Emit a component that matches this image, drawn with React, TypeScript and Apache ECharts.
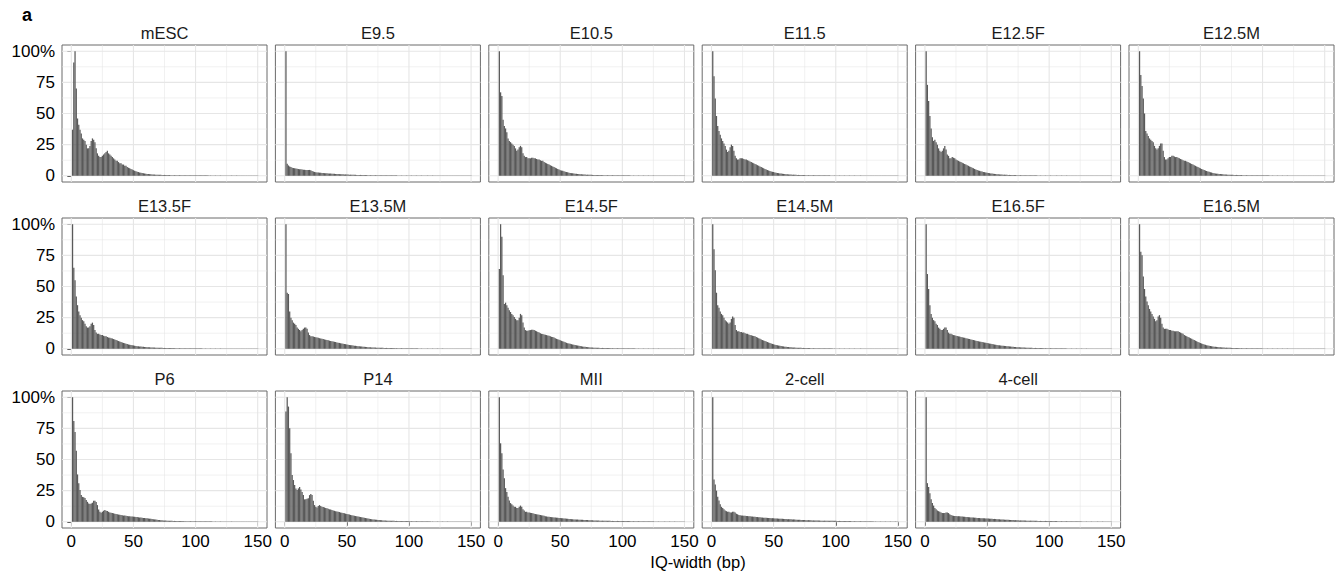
import React, { useEffect, useRef } from "react";
import * as echarts from "echarts";

// ---------- data (percent of max bin, IQ-width 1..150 bp) ----------
const panelNames = [
  "mESC", "E9.5", "E10.5", "E11.5", "E12.5F", "E12.5M",
  "E13.5F", "E13.5M", "E14.5F", "E14.5M", "E16.5F", "E16.5M",
  "P6", "P14", "MII", "2-cell", "4-cell",
];

const xTicks = [0, 50, 100, 150];
const xMinor = [25, 75, 125];
const yTicks = [0, 25, 50, 75, 100];
const yMinor = [12.5, 37.5, 62.5, 87.5];

const mESC = [
  37, 91, 100, 70, 46, 41, 37, 34, 30, 29,
  28, 25, 22, 22, 24, 28, 30, 29, 27, 22,
  18, 16, 15, 15, 16, 17, 18, 19, 20, 18,
  17, 16, 15, 14, 13, 12, 12, 11, 10, 10,
  9, 9, 8, 8, 7, 6.5, 6, 5.5, 5, 4.5,
  4, 3.6, 3.2, 3, 2.7, 2.4, 2.2, 2, 1.8, 1.6,
  1.5, 1.4, 1.3, 1.2, 1.1, 1, 1, 0.9, 0.9, 0.8,
  0.8, 0.8, 0.7, 0.7, 0.7, 0.6, 0.6, 0.6, 0.6, 0.5,
  0.5, 0.5, 0.5, 0.5, 0.5, 0.5, 0.5, 0.5, 0.5, 0.5,
  0.5, 0.5, 0.4, 0.4, 0.4, 0.4, 0.4, 0.4, 0.4, 0.4,
  0.4, 0.4, 0.4, 0.4, 0.4, 0.4, 0.4, 0.4, 0.4, 0.4,
  0.3, 0.3, 0.3, 0.3, 0.3, 0.3, 0.3, 0.3, 0.3, 0.3,
  0.3, 0.3, 0.3, 0.3, 0.3, 0.3, 0.3, 0.3, 0.3, 0.3,
  0.3, 0.3, 0.3, 0.3, 0.3, 0.2, 0.2, 0.2, 0.2, 0.2,
  0.2, 0.2, 0.2, 0.2, 0.2, 0.2, 0.2, 0.2, 0.2, 0.2,
];
const E9_5 = [
  100, 9.6, 8.3, 7.5, 7, 6.5, 6.2, 6, 5.8, 5.6,
  5.4, 5.3, 5.2, 5, 4.9, 4.8, 4.7, 4.6, 4.6, 4.7,
  4.5, 3.8, 3.4, 3.1, 2.9, 2.7, 2.6, 2.5, 2.4, 2.3,
  2.2, 2.1, 2, 2, 1.9, 1.8, 1.8, 1.7, 1.6, 1.6,
  1.5, 1.4, 1.4, 1.3, 1.3, 1.2, 1.2, 1.1, 1.1, 1,
  1, 0.9, 0.9, 0.9, 0.8, 0.8, 0.8, 0.7, 0.7, 0.7,
  0.7, 0.6, 0.6, 0.6, 0.6, 0.6, 0.5, 0.5, 0.5, 0.5,
  0.5, 0.5, 0.5, 0.4, 0.4, 0.4, 0.4, 0.4, 0.4, 0.4,
  0.4, 0.4, 0.4, 0.4, 0.4, 0.4, 0.4, 0.4, 0.4, 0.4,
  0.3, 0.3, 0.3, 0.3, 0.3, 0.3, 0.3, 0.3, 0.3, 0.3,
  0.3, 0.3, 0.3, 0.3, 0.3, 0.3, 0.3, 0.3, 0.3, 0.3,
  0.3, 0.3, 0.3, 0.3, 0.3, 0.3, 0.3, 0.3, 0.3, 0.3,
  0.2, 0.2, 0.2, 0.2, 0.2, 0.2, 0.2, 0.2, 0.2, 0.2,
  0.2, 0.2, 0.2, 0.2, 0.2, 0.2, 0.2, 0.2, 0.2, 0.2,
  0.2, 0.2, 0.2, 0.2, 0.2, 0.2, 0.2, 0.2, 0.2, 0.2,
];
const E10_5 = [
  100, 67, 64, 45, 40, 38, 35, 30, 28, 27,
  26, 25, 24, 22, 20, 21, 23, 24, 23, 18,
  16, 15, 15, 14, 14, 14, 14.5, 14.5, 14, 14,
  13.5, 13, 13, 12.5, 12, 12, 11, 10.5, 10, 9.5,
  9, 8.5, 8, 7.5, 7, 6.5, 6, 5.5, 5, 4.5,
  4.2, 4, 3.6, 3.3, 3, 2.8, 2.5, 2.3, 2.1, 2,
  1.8, 1.7, 1.6, 1.5, 1.4, 1.3, 1.2, 1.1, 1, 1,
  0.9, 0.9, 0.8, 0.8, 0.8, 0.7, 0.7, 0.7, 0.6, 0.6,
  0.6, 0.6, 0.6, 0.5, 0.5, 0.5, 0.5, 0.5, 0.5, 0.5,
  0.5, 0.5, 0.4, 0.4, 0.4, 0.4, 0.4, 0.4, 0.4, 0.4,
  0.4, 0.4, 0.4, 0.4, 0.4, 0.4, 0.3, 0.3, 0.3, 0.3,
  0.3, 0.3, 0.3, 0.3, 0.3, 0.3, 0.3, 0.3, 0.3, 0.3,
  0.3, 0.3, 0.3, 0.3, 0.3, 0.3, 0.3, 0.3, 0.2, 0.2,
  0.2, 0.2, 0.2, 0.2, 0.2, 0.2, 0.2, 0.2, 0.2, 0.2,
  0.2, 0.2, 0.2, 0.2, 0.2, 0.2, 0.2, 0.2, 0.2, 0.2,
];
const E11_5 = [
  100, 80, 62, 48, 40, 36, 33, 30, 28, 26,
  24, 21, 19, 20, 23, 25, 24, 20, 16, 14,
  13, 13, 14, 14, 14, 13.5, 13, 13, 12.5, 12,
  11.5, 11, 10.5, 10, 9.5, 9, 8.5, 8, 7.5, 7,
  6.5, 6, 5.5, 5, 4.6, 4.2, 3.8, 3.5, 3.2, 3,
  2.7, 2.5, 2.3, 2.1, 1.9, 1.8, 1.6, 1.5, 1.4, 1.3,
  1.2, 1.1, 1, 1, 0.9, 0.9, 0.8, 0.8, 0.7, 0.7,
  0.7, 0.6, 0.6, 0.6, 0.6, 0.5, 0.5, 0.5, 0.5, 0.5,
  0.5, 0.5, 0.5, 0.4, 0.4, 0.4, 0.4, 0.4, 0.4, 0.4,
  0.4, 0.4, 0.4, 0.4, 0.4, 0.3, 0.3, 0.3, 0.3, 0.3,
  0.3, 0.3, 0.3, 0.3, 0.3, 0.3, 0.3, 0.3, 0.3, 0.3,
  0.3, 0.3, 0.3, 0.3, 0.3, 0.3, 0.3, 0.3, 0.3, 0.3,
  0.2, 0.2, 0.2, 0.2, 0.2, 0.2, 0.2, 0.2, 0.2, 0.2,
  0.2, 0.2, 0.2, 0.2, 0.2, 0.2, 0.2, 0.2, 0.2, 0.2,
  0.2, 0.2, 0.2, 0.2, 0.2, 0.2, 0.2, 0.2, 0.2, 0.2,
];
const E12_5F = [
  100, 73, 60, 48, 38, 31, 28, 29, 27, 25,
  22, 20, 19, 20, 22, 24, 21, 17, 16, 14,
  14, 15, 14.5, 14, 13, 12.5, 12, 11.5, 11, 10.5,
  10, 9.5, 9, 8.5, 8, 7.5, 7, 6.5, 6, 5.5,
  5, 4.6, 4.3, 4, 3.7, 3.4, 3.1, 2.9, 2.7, 2.5,
  2.3, 2.1, 1.9, 1.8, 1.6, 1.5, 1.4, 1.3, 1.2, 1.1,
  1, 1, 0.9, 0.9, 0.8, 0.8, 0.7, 0.7, 0.7, 0.6,
  0.6, 0.6, 0.6, 0.5, 0.5, 0.5, 0.5, 0.5, 0.5, 0.4,
  0.4, 0.4, 0.4, 0.4, 0.4, 0.4, 0.4, 0.4, 0.4, 0.4,
  0.3, 0.3, 0.3, 0.3, 0.3, 0.3, 0.3, 0.3, 0.3, 0.3,
  0.3, 0.3, 0.3, 0.3, 0.3, 0.3, 0.3, 0.3, 0.3, 0.3,
  0.3, 0.3, 0.3, 0.3, 0.3, 0.2, 0.2, 0.2, 0.2, 0.2,
  0.2, 0.2, 0.2, 0.2, 0.2, 0.2, 0.2, 0.2, 0.2, 0.2,
  0.2, 0.2, 0.2, 0.2, 0.2, 0.2, 0.2, 0.2, 0.2, 0.2,
  0.2, 0.2, 0.2, 0.2, 0.2, 0.2, 0.2, 0.2, 0.2, 0.2,
];
const E12_5M = [
  100, 81, 72, 62, 50, 36, 34, 32, 30, 29,
  28, 27, 24, 22, 21, 22, 24, 26, 26, 20,
  15, 13, 13, 14, 15, 15, 16, 16, 15.5, 15,
  15, 14.5, 14, 13.5, 13, 12.5, 12, 12, 11.5, 11,
  10.5, 10, 9.5, 9, 8.5, 8, 7.5, 7, 6.5, 6,
  5.5, 5, 4.6, 4.2, 3.8, 3.5, 3.2, 2.9, 2.6, 2.3,
  2.1, 1.9, 1.7, 1.6, 1.5, 1.4, 1.3, 1.2, 1.1, 1,
  1, 0.9, 0.9, 0.8, 0.8, 0.8, 0.7, 0.7, 0.7, 0.6,
  0.6, 0.6, 0.6, 0.5, 0.5, 0.5, 0.5, 0.5, 0.5, 0.5,
  0.5, 0.4, 0.4, 0.4, 0.4, 0.4, 0.4, 0.4, 0.4, 0.4,
  0.4, 0.4, 0.4, 0.4, 0.4, 0.3, 0.3, 0.3, 0.3, 0.3,
  0.3, 0.3, 0.3, 0.3, 0.3, 0.3, 0.3, 0.3, 0.3, 0.3,
  0.3, 0.3, 0.3, 0.3, 0.3, 0.2, 0.2, 0.2, 0.2, 0.2,
  0.2, 0.2, 0.2, 0.2, 0.2, 0.2, 0.2, 0.2, 0.2, 0.2,
  0.2, 0.2, 0.2, 0.2, 0.2, 0.2, 0.2, 0.2, 0.2, 0.2,
];
const E13_5F = [
  100, 65, 55, 42, 35, 30, 27, 25, 23, 22,
  20, 18, 17, 17, 18, 20, 21, 19, 15, 13,
  12, 12, 11.5, 11, 11, 10.5, 10, 10, 9.5, 9,
  8.8, 8.5, 8.2, 7.8, 7.5, 7, 6.6, 6.2, 5.8, 5.4,
  5, 4.7, 4.4, 4.1, 3.8, 3.5, 3.3, 3.1, 2.9, 2.7,
  2.5, 2.3, 2.1, 2, 1.9, 1.8, 1.7, 1.6, 1.5, 1.4,
  1.3, 1.2, 1.2, 1.1, 1.1, 1, 1, 0.9, 0.9, 0.9,
  0.8, 0.8, 0.8, 0.7, 0.7, 0.7, 0.7, 0.6, 0.6, 0.6,
  0.6, 0.6, 0.5, 0.5, 0.5, 0.5, 0.5, 0.5, 0.5, 0.5,
  0.4, 0.4, 0.4, 0.4, 0.4, 0.4, 0.4, 0.4, 0.4, 0.4,
  0.4, 0.4, 0.4, 0.4, 0.4, 0.3, 0.3, 0.3, 0.3, 0.3,
  0.3, 0.3, 0.3, 0.3, 0.3, 0.3, 0.3, 0.3, 0.3, 0.3,
  0.3, 0.3, 0.3, 0.3, 0.3, 0.2, 0.2, 0.2, 0.2, 0.2,
  0.2, 0.2, 0.2, 0.2, 0.2, 0.2, 0.2, 0.2, 0.2, 0.2,
  0.2, 0.2, 0.2, 0.2, 0.2, 0.2, 0.2, 0.2, 0.2, 0.2,
];
const E13_5M = [
  100, 45, 44, 30, 25, 23, 21, 20, 19, 17,
  16, 15, 14, 15, 16, 17, 17, 16, 13, 11,
  10, 10, 9.8, 9.5, 9.3, 9, 8.8, 8.5, 8.2, 8,
  7.8, 7.5, 7.3, 7, 6.8, 6.5, 6.3, 6.1, 5.9, 5.6,
  5.4, 5.1, 4.9, 4.7, 4.5, 4.3, 4.1, 3.9, 3.7, 3.5,
  3.3, 3.1, 2.9, 2.8, 2.6, 2.5, 2.4, 2.2, 2.1, 2,
  1.9, 1.8, 1.7, 1.6, 1.5, 1.4, 1.3, 1.2, 1.2, 1.1,
  1.1, 1, 1, 0.9, 0.9, 0.9, 0.8, 0.8, 0.8, 0.7,
  0.7, 0.7, 0.7, 0.6, 0.6, 0.6, 0.6, 0.6, 0.5, 0.5,
  0.5, 0.5, 0.5, 0.5, 0.5, 0.4, 0.4, 0.4, 0.4, 0.4,
  0.4, 0.4, 0.4, 0.4, 0.4, 0.4, 0.4, 0.3, 0.3, 0.3,
  0.3, 0.3, 0.3, 0.3, 0.3, 0.3, 0.3, 0.3, 0.3, 0.3,
  0.3, 0.3, 0.3, 0.3, 0.3, 0.3, 0.3, 0.2, 0.2, 0.2,
  0.2, 0.2, 0.2, 0.2, 0.2, 0.2, 0.2, 0.2, 0.2, 0.2,
  0.2, 0.2, 0.2, 0.2, 0.2, 0.2, 0.2, 0.2, 0.2, 0.2,
];
const E14_5F = [
  64, 100, 90, 59, 36, 37, 35, 33, 31, 29.5,
  28, 27, 25.5, 24, 23, 23, 25, 28, 27, 21,
  17, 15, 14.5, 14.5, 14.8, 15, 15.3, 15.3, 15, 14.5,
  14, 13.5, 13, 12.5, 12, 11.8, 11.5, 11.2, 11, 10.7,
  10.4, 10, 9.6, 9.4, 9, 8.5, 8, 7.6, 7.2, 6.8,
  6.4, 6, 5.6, 5.2, 4.8, 4.5, 4.2, 4, 3.7, 3.5,
  3.2, 3, 2.8, 2.6, 2.4, 2.2, 2, 1.8, 1.7, 1.6,
  1.4, 1.3, 1.2, 1.1, 1, 1, 0.9, 0.9, 0.8, 0.8,
  0.8, 0.7, 0.7, 0.7, 0.7, 0.6, 0.6, 0.6, 0.6, 0.6,
  0.5, 0.5, 0.5, 0.5, 0.5, 0.5, 0.5, 0.5, 0.4, 0.4,
  0.4, 0.4, 0.4, 0.4, 0.4, 0.4, 0.4, 0.4, 0.4, 0.4,
  0.3, 0.3, 0.3, 0.3, 0.3, 0.3, 0.3, 0.3, 0.3, 0.3,
  0.3, 0.3, 0.3, 0.3, 0.3, 0.3, 0.3, 0.3, 0.3, 0.3,
  0.2, 0.2, 0.2, 0.2, 0.2, 0.2, 0.2, 0.2, 0.2, 0.2,
  0.2, 0.2, 0.2, 0.2, 0.2, 0.2, 0.2, 0.2, 0.2, 0.2,
];
const E14_5M = [
  100, 80, 63, 45, 35, 33, 30, 28, 27, 25,
  23, 22, 21, 20, 21, 24, 26, 25, 19, 15,
  14, 14, 13.5, 13.5, 13, 13, 12.5, 12, 12, 11.5,
  11, 10.8, 10.5, 10.2, 10, 9.5, 9, 8.5, 8, 7.5,
  7, 6.6, 6.2, 5.8, 5.4, 5, 4.6, 4.2, 3.9, 3.6,
  3.3, 3, 2.8, 2.6, 2.4, 2.2, 2, 1.9, 1.7, 1.6,
  1.5, 1.4, 1.3, 1.2, 1.1, 1, 1, 0.9, 0.9, 0.8,
  0.8, 0.8, 0.7, 0.7, 0.7, 0.6, 0.6, 0.6, 0.6, 0.5,
  0.5, 0.5, 0.5, 0.5, 0.5, 0.5, 0.4, 0.4, 0.4, 0.4,
  0.4, 0.4, 0.4, 0.4, 0.4, 0.4, 0.4, 0.3, 0.3, 0.3,
  0.3, 0.3, 0.3, 0.3, 0.3, 0.3, 0.3, 0.3, 0.3, 0.3,
  0.3, 0.3, 0.3, 0.3, 0.3, 0.3, 0.3, 0.3, 0.3, 0.3,
  0.2, 0.2, 0.2, 0.2, 0.2, 0.2, 0.2, 0.2, 0.2, 0.2,
  0.2, 0.2, 0.2, 0.2, 0.2, 0.2, 0.2, 0.2, 0.2, 0.2,
  0.2, 0.2, 0.2, 0.2, 0.2, 0.2, 0.2, 0.2, 0.2, 0.2,
];
const E16_5F = [
  100, 60, 48, 35, 28, 25, 23, 22, 20, 19,
  17, 16, 15, 15, 16, 17, 17, 15, 13, 12,
  12, 11.5, 11, 10.8, 10.5, 10.2, 10, 9.8, 9.5, 9.2,
  9, 8.8, 8.5, 8.2, 8, 7.8, 7.5, 7.2, 7, 6.8,
  6.5, 6.3, 6, 5.8, 5.6, 5.4, 5.2, 5, 4.8, 4.6,
  4.4, 4.2, 4, 3.8, 3.6, 3.4, 3.2, 3, 2.9, 2.8,
  2.6, 2.5, 2.4, 2.3, 2.2, 2.1, 2, 1.9, 1.8, 1.7,
  1.6, 1.5, 1.4, 1.3, 1.2, 1.2, 1.1, 1.1, 1, 1,
  0.9, 0.9, 0.9, 0.8, 0.8, 0.8, 0.7, 0.7, 0.7, 0.7,
  0.6, 0.6, 0.6, 0.6, 0.6, 0.5, 0.5, 0.5, 0.5, 0.5,
  0.5, 0.5, 0.4, 0.4, 0.4, 0.4, 0.4, 0.4, 0.4, 0.4,
  0.4, 0.4, 0.4, 0.3, 0.3, 0.3, 0.3, 0.3, 0.3, 0.3,
  0.3, 0.3, 0.3, 0.3, 0.3, 0.3, 0.3, 0.3, 0.3, 0.3,
  0.2, 0.2, 0.2, 0.2, 0.2, 0.2, 0.2, 0.2, 0.2, 0.2,
  0.2, 0.2, 0.2, 0.2, 0.2, 0.2, 0.2, 0.2, 0.2, 0.2,
];
const E16_5M = [
  100, 78, 75, 58, 48, 42, 38, 35, 32, 30,
  28, 26, 24, 22, 23, 26, 27, 25, 20, 17,
  16, 16, 16, 15.5, 15, 15, 14.5, 14.5, 14, 14,
  14, 14, 13.5, 13, 12.5, 12, 11, 10.5, 10, 9.5,
  9, 8.5, 8, 7.5, 7, 6.5, 6, 5.5, 5, 4.6,
  4.2, 3.8, 3.5, 3.2, 2.9, 2.6, 2.4, 2.2, 2, 1.8,
  1.7, 1.6, 1.5, 1.4, 1.3, 1.2, 1.1, 1, 1, 0.9,
  0.9, 0.8, 0.8, 0.8, 0.7, 0.7, 0.7, 0.6, 0.6, 0.6,
  0.6, 0.5, 0.5, 0.5, 0.5, 0.5, 0.5, 0.5, 0.4, 0.4,
  0.4, 0.4, 0.4, 0.4, 0.4, 0.4, 0.4, 0.4, 0.4, 0.3,
  0.3, 0.3, 0.3, 0.3, 0.3, 0.3, 0.3, 0.3, 0.3, 0.3,
  0.3, 0.3, 0.3, 0.3, 0.3, 0.3, 0.3, 0.3, 0.3, 0.3,
  0.2, 0.2, 0.2, 0.2, 0.2, 0.2, 0.2, 0.2, 0.2, 0.2,
  0.2, 0.2, 0.2, 0.2, 0.2, 0.2, 0.2, 0.2, 0.2, 0.2,
  0.2, 0.2, 0.2, 0.2, 0.2, 0.2, 0.2, 0.2, 0.2, 0.2,
];
const P6 = [
  100, 81, 72, 57, 38, 31, 25.5, 21.4, 20, 19.6,
  19, 17.4, 16, 14.7, 14.2, 14.7, 15.3, 16.9, 16.9, 15.8,
  13.4, 9.9, 8, 7.2, 8, 8.8, 9.4, 8.8, 8.6, 8,
  7.5, 7.2, 7, 6.8, 6.5, 6.2, 6, 5.8, 5.6, 5.4,
  5.2, 5, 5, 4.8, 4.6, 4.5, 4.4, 4.3, 4.2, 4.1,
  4, 3.9, 3.8, 3.6, 3.5, 3.4, 3.2, 3, 3, 2.9,
  2.8, 2.6, 2.5, 2.4, 2.2, 2, 1.9, 1.8, 1.6, 1.5,
  1.4, 1.3, 1.2, 1.1, 1, 1, 0.9, 0.9, 0.8, 0.8,
  0.8, 0.7, 0.7, 0.7, 0.7, 0.6, 0.6, 0.6, 0.6, 0.6,
  0.5, 0.5, 0.5, 0.5, 0.5, 0.5, 0.5, 0.5, 0.5, 0.5,
  0.5, 0.4, 0.4, 0.4, 0.4, 0.4, 0.4, 0.4, 0.4, 0.4,
  0.4, 0.4, 0.4, 0.3, 0.3, 0.3, 0.3, 0.3, 0.3, 0.3,
  0.3, 0.3, 0.3, 0.3, 0.3, 0.3, 0.3, 0.3, 0.3, 0.3,
  0.2, 0.2, 0.2, 0.2, 0.2, 0.2, 0.2, 0.2, 0.2, 0.2,
  0.2, 0.2, 0.2, 0.2, 0.2, 0.2, 0.2, 0.2, 0.2, 0.2,
];
const P14 = [
  88.5, 100, 92.5, 75, 55, 37.5, 33.5, 29.5, 26.8, 25.5,
  26.8, 28, 26, 24, 21.5, 18, 18, 18.5, 18.8, 21.4,
  22.2, 21.4, 16.9, 13.4, 12, 11.5, 12.6, 13.4, 12.6, 12,
  11.8, 11.5, 11, 10.8, 10.5, 10, 9.8, 9.5, 9, 8.8,
  8.5, 8.2, 8, 7.8, 7.5, 7.2, 7, 6.8, 6.5, 6.2,
  6, 5.8, 5.5, 5.2, 5, 4.8, 4.6, 4.4, 4.2, 4,
  3.8, 3.6, 3.4, 3.2, 3, 2.8, 2.6, 2.4, 2.2, 2,
  1.9, 1.8, 1.7, 1.6, 1.5, 1.4, 1.3, 1.2, 1.1, 1,
  1, 0.9, 0.9, 0.9, 0.8, 0.8, 0.8, 0.8, 0.7, 0.7,
  0.7, 0.7, 0.7, 0.6, 0.6, 0.6, 0.6, 0.6, 0.6, 0.6,
  0.5, 0.5, 0.5, 0.5, 0.5, 0.5, 0.5, 0.4, 0.4, 0.4,
  0.4, 0.4, 0.4, 0.4, 0.4, 0.4, 0.4, 0.3, 0.3, 0.3,
  0.3, 0.3, 0.3, 0.3, 0.3, 0.3, 0.3, 0.3, 0.3, 0.3,
  0.3, 0.3, 0.2, 0.2, 0.2, 0.2, 0.2, 0.2, 0.2, 0.2,
  0.2, 0.2, 0.2, 0.2, 0.2, 0.2, 0.2, 0.2, 0.2, 0.2,
];
const MII = [
  100, 63, 55, 42, 35, 27, 24, 20, 17, 15,
  14, 13, 12, 12, 11, 11, 12, 13, 12, 10,
  9, 8, 8, 7.5, 7.5, 7.2, 7, 6.8, 6.5, 6.2,
  6, 5.8, 5.6, 5.4, 5.2, 5, 4.8, 4.5, 4.3, 4.1,
  4, 3.8, 3.7, 3.6, 3.5, 3.4, 3.3, 3.2, 3.1, 3,
  2.9, 2.8, 2.7, 2.6, 2.5, 2.4, 2.3, 2.2, 2.1, 2,
  1.9, 1.9, 1.8, 1.8, 1.7, 1.7, 1.6, 1.6, 1.5, 1.5,
  1.4, 1.4, 1.3, 1.3, 1.2, 1.2, 1.1, 1.1, 1, 1,
  1, 0.9, 0.9, 0.9, 0.9, 0.8, 0.8, 0.8, 0.8, 0.8,
  0.7, 0.7, 0.7, 0.7, 0.7, 0.7, 0.7, 0.7, 0.7, 0.7,
  0.6, 0.6, 0.6, 0.6, 0.6, 0.6, 0.5, 0.5, 0.5, 0.5,
  0.5, 0.5, 0.5, 0.5, 0.4, 0.4, 0.4, 0.4, 0.4, 0.4,
  0.4, 0.4, 0.4, 0.4, 0.4, 0.3, 0.3, 0.3, 0.3, 0.3,
  0.3, 0.3, 0.3, 0.3, 0.3, 0.3, 0.3, 0.3, 0.3, 0.3,
  0.3, 0.3, 0.3, 0.3, 0.3, 0.2, 0.2, 0.2, 0.2, 0.2,
];
const cell2 = [
  100, 34, 30, 25, 20, 17, 14, 12, 11, 10,
  9, 8.5, 8, 8, 7.5, 7.5, 8, 8, 7.5, 6.5,
  6, 5.5, 5.3, 5.1, 5, 4.9, 4.8, 4.7, 4.6, 4.5,
  4.4, 4.3, 4.2, 4.1, 4, 3.9, 3.8, 3.7, 3.6, 3.5,
  3.4, 3.3, 3.3, 3.2, 3.1, 3, 3, 2.9, 2.9, 2.8,
  2.7, 2.7, 2.6, 2.5, 2.5, 2.4, 2.4, 2.3, 2.3, 2.2,
  2.1, 2.1, 2, 2, 1.9, 1.9, 1.8, 1.7, 1.7, 1.6,
  1.6, 1.5, 1.5, 1.4, 1.4, 1.3, 1.3, 1.3, 1.2, 1.2,
  1.1, 1.1, 1.1, 1, 1, 1, 1, 0.9, 0.9, 0.9,
  0.9, 0.9, 0.8, 0.8, 0.8, 0.8, 0.8, 0.8, 0.8, 0.8,
  0.7, 0.7, 0.7, 0.7, 0.7, 0.7, 0.6, 0.6, 0.6, 0.6,
  0.6, 0.6, 0.5, 0.5, 0.5, 0.5, 0.5, 0.5, 0.5, 0.5,
  0.4, 0.4, 0.4, 0.4, 0.4, 0.4, 0.4, 0.4, 0.4, 0.4,
  0.3, 0.3, 0.3, 0.3, 0.3, 0.3, 0.3, 0.3, 0.3, 0.3,
  0.3, 0.3, 0.3, 0.3, 0.3, 0.3, 0.3, 0.3, 0.3, 0.3,
];
const cell4 = [
  100, 31, 28, 23, 18, 15, 13, 11, 10, 9,
  8.5, 8, 7.5, 7, 7, 7, 7.5, 7.5, 7, 6,
  5.5, 5, 4.8, 4.7, 4.6, 4.5, 4.5, 4.4, 4.3, 4.2,
  4.1, 4, 3.9, 3.8, 3.7, 3.6, 3.5, 3.5, 3.4, 3.3,
  3.2, 3.1, 3, 3, 2.9, 2.9, 2.8, 2.8, 2.7, 2.7,
  2.6, 2.5, 2.5, 2.4, 2.3, 2.3, 2.2, 2.1, 2.1, 2,
  1.9, 1.9, 1.8, 1.7, 1.7, 1.6, 1.6, 1.5, 1.5, 1.4,
  1.4, 1.3, 1.3, 1.2, 1.2, 1.1, 1.1, 1, 1, 1,
  1, 0.9, 0.9, 0.9, 0.9, 0.8, 0.8, 0.8, 0.8, 0.8,
  0.7, 0.7, 0.7, 0.7, 0.7, 0.7, 0.7, 0.7, 0.7, 0.7,
  0.6, 0.6, 0.6, 0.6, 0.6, 0.6, 0.5, 0.5, 0.5, 0.5,
  0.5, 0.5, 0.5, 0.5, 0.4, 0.4, 0.4, 0.4, 0.4, 0.4,
  0.4, 0.4, 0.4, 0.4, 0.4, 0.3, 0.3, 0.3, 0.3, 0.3,
  0.3, 0.3, 0.3, 0.3, 0.3, 0.3, 0.3, 0.3, 0.3, 0.3,
  0.3, 0.3, 0.3, 0.3, 0.3, 0.2, 0.2, 0.2, 0.2, 0.2,
];

const panelValues = [
  mESC, E9_5, E10_5, E11_5, E12_5F, E12_5M,
  E13_5F, E13_5M, E14_5F, E14_5M, E16_5F, E16_5M,
  P6, P14, MII, cell2, cell4,
];

// ---------- layout ----------
const X_MIN = -7.5, X_MAX = 157.5, Y_MIN = -5, Y_MAX = 105;
const LEFT0 = 62, COL_STEP = 213.4, TOP0 = 45, ROW_STEP = 173;
const PW = 205, PH = 137;
const FONT = "'Liberation Sans', Arial, Helvetica, sans-serif";
const FS = 16.5;

function buildOption() {
  const grids: any[] = [];
  const xAxes: any[] = [];
  const yAxes: any[] = [];
  const series: any[] = [];
  const graphics: any[] = [];

  const gridData: number[][] = [];
  xTicks.forEach((v) => gridData.push([0, v, 1]));
  xMinor.forEach((v) => gridData.push([0, v, 0]));
  yTicks.forEach((v) => gridData.push([1, v, 1]));
  yMinor.forEach((v) => gridData.push([1, v, 0]));

  panelNames.forEach((name, i) => {
    const row = Math.floor(i / 6);
    const col = i % 6;
    const left = LEFT0 + col * COL_STEP;
    const top = TOP0 + row * ROW_STEP;
    const showX = row === 2;
    const showY = col === 0;
    grids.push({
      left, top, width: PW, height: PH,
      show: true, borderColor: "#6b6b6b", borderWidth: 1, backgroundColor: "#fff",
      containLabel: false,
    });
    xAxes.push({
      type: "value", gridIndex: i, min: X_MIN, max: X_MAX,
      axisLine: { show: false },
      splitLine: { show: false },
      axisTick: { show: showX, customValues: xTicks, length: 4, lineStyle: { color: "#333", width: 1 } },
      axisLabel: { show: showX, customValues: xTicks, color: "#000", fontSize: FS + 0.5, fontFamily: FONT, margin: 5 },
    });
    yAxes.push({
      type: "value", gridIndex: i, min: Y_MIN, max: Y_MAX,
      axisLine: { show: false },
      splitLine: { show: false },
      axisTick: { show: showY, customValues: yTicks, length: 4, lineStyle: { color: "#333", width: 1 } },
      axisLabel: {
        show: showY, customValues: yTicks, color: "#000", fontSize: FS + 0.5, fontFamily: FONT, margin: 7,
        formatter: (v: number) => (v === 100 ? "100%" : String(v)),
      },
    });
    series.push({
      type: "custom", xAxisIndex: i, yAxisIndex: i, z: 1, silent: true,
      data: gridData,
      renderItem: (_p: any, api: any) => {
        const dir = api.value(0), v = api.value(1), major = api.value(2);
        const p0 = dir === 0 ? api.coord([v, Y_MIN]) : api.coord([X_MIN, v]);
        const p1 = dir === 0 ? api.coord([v, Y_MAX]) : api.coord([X_MAX, v]);
        return {
          type: "line",
          shape: { x1: p0[0], y1: p0[1], x2: p1[0], y2: p1[1] },
          style: { stroke: "#e6e6e6", lineWidth: major ? 1.1 : 0.55 },
        };
      },
    });
    series.push({
      type: "custom", xAxisIndex: i, yAxisIndex: i, z: 2, silent: true,
      data: panelValues[i].map((v, k) => [k + 1, v]),
      renderItem: (_p: any, api: any) => {
        const x = api.value(0), y = api.value(1);
        const a = api.coord([x - 0.5, y]);
        const b = api.coord([x + 0.5, 0]);
        return {
          type: "rect",
          shape: { x: a[0], y: a[1], width: b[0] - a[0], height: b[1] - a[1] },
          style: { fill: "#595959" },
        };
      },
    });
    graphics.push({
      type: "text", x: left + PW / 2, y: top - 12,
      style: {
        text: name, align: "center", verticalAlign: "middle", textAlign: "center", textVerticalAlign: "middle",
        fontSize: FS, fontFamily: FONT, fill: "#1a1a1a",
      },
    });
  });

  graphics.push({
    type: "text", x: LEFT0 + (5 * COL_STEP + PW) / 2, y: 562,
    style: {
      text: "IQ-width (bp)", align: "center", verticalAlign: "middle", textAlign: "center", textVerticalAlign: "middle",
      fontSize: FS, fontFamily: FONT, fill: "#000",
    },
  });
  graphics.push({
    type: "text", x: 22, y: 15,
    style: {
      text: "a", align: "left", verticalAlign: "middle", textAlign: "left", textVerticalAlign: "middle",
      fontSize: 18, fontWeight: "bold", fontFamily: FONT, fill: "#000",
    },
  });

  return {
    animation: false,
    backgroundColor: "#fff",
    grid: grids,
    xAxis: xAxes,
    yAxis: yAxes,
    series,
    graphic: graphics,
  };
}

export default function App() {
  const ref = useRef<HTMLDivElement>(null);
  useEffect(() => {
    if (!ref.current) return;
    const chart = echarts.init(ref.current, undefined, { renderer: "svg" });
    chart.setOption(buildOption() as any);
    return () => chart.dispose();
  }, []);
  return (
    <div
      ref={ref}
      style={{ position: "fixed", left: 0, top: 0, width: 1344, height: 575, background: "#fff" }}
    />
  );
}
